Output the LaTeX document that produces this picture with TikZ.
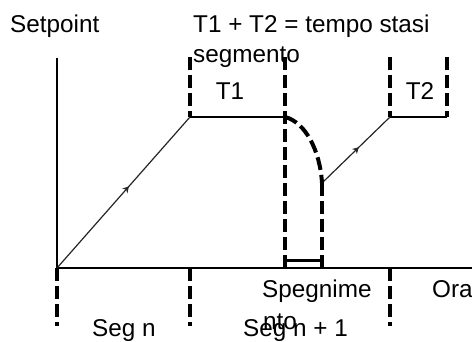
\documentclass[tikz,border=0pt]{standalone}
\usepackage{fontspec}
\setmainfont{Liberation Sans}
\usetikzlibrary{decorations.markings,arrows.meta}
\begin{document}
\begin{tikzpicture}[x=1pt,y=-1pt,
  txt/.style={anchor=base west,inner sep=0pt,font=\fontsize{24.3}{28}\selectfont},
  axis/.style={line width=2pt},
  thickdash/.style={line width=4pt,dash pattern=on 13pt off 5pt},
  ramp/.style={line width=1.2pt,draw=black!85,decoration={markings,mark=at position 0.54 with {\arrow{Stealth[length=6pt,width=7pt]}}},postaction={decorate}},
  flat/.style={line width=2pt}]
\useasboundingbox[fill=white] (0,0) rectangle (472,342);
% key points
\coordinate (O) at (57,268);
\coordinate (Ytop) at (57,58);
\coordinate (Xend) at (472,268);
\coordinate (A) at (190,117);
\coordinate (B) at (285,117);
\coordinate (C) at (322,183);
\coordinate (D) at (390,117);
\coordinate (E) at (447,117);
\coordinate (Atop) at (190,57);
\coordinate (Btop) at (285,57);
\coordinate (Bbot) at (285,268);
\coordinate (Cbot) at (322,268);
\coordinate (Dtop) at (390,57);
\coordinate (Etop) at (447,57);
\coordinate (Obot) at (57,326);
\coordinate (Ax) at (190,268);
\coordinate (Abot) at (190,326);
\coordinate (Dx) at (390,268);
\coordinate (Dbot) at (390,326);
\coordinate (Bbr) at (285,261);
\coordinate (Cbr) at (322,261);
% axes
\draw[axis] (Ytop) -- (O) -- (Xend);
% ramps and plateaus
\draw[ramp] (O) -- (A);
\draw[flat] (A) -- (B);
\draw[ramp] (C) -- (D);
\draw[flat] (D) -- (E);
% dashed markers
\draw[thickdash] (Atop) -- (A);
\draw[thickdash] (Btop) -- (Bbot);
\draw[thickdash] (B) .. controls (305,122) and (320,150) .. (C);
\draw[thickdash] (C) -- (Cbot);
\draw[thickdash] (Dtop) -- (D);
\draw[thickdash] (Etop) -- (E);
\draw[line width=3pt] (Bbr) -- (Cbr);
\draw[thickdash] (O) -- (Obot);
\draw[thickdash] (Ax) -- (Abot);
\draw[thickdash] (Dx) -- (Dbot);
% texts
\node[txt] (setpoint) at (10,33) {Setpoint};
\node[txt] (eq) at (193,33) {T1 + T2 = tempo stasi};
\node[txt] (eq2) at (193,63) {segmento};
\node[txt,anchor=base] (t1) at (230,100) {T1};
\node[txt,anchor=base] (t2) at (420,100) {T2};
\node[txt] (speg) at (262,298) {Spegnime};
\node[txt] (speg2) at (263,330) {nto};
\node[txt] (ora) at (432,298) {Ora};
\node[txt] (segn) at (92,337) {Seg n};
\node[txt] (segn1) at (243,337) {Seg n + 1};
\end{tikzpicture}
\end{document}
